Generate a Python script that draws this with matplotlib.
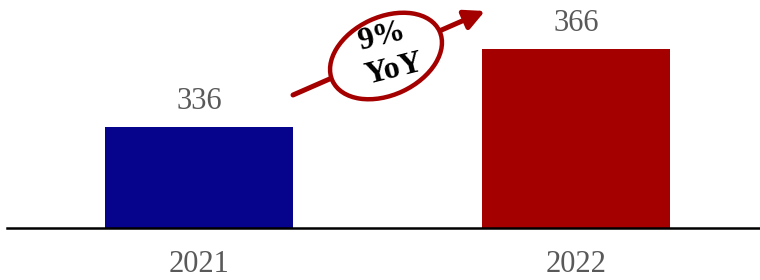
import matplotlib
matplotlib.use("Agg")
import matplotlib.pyplot as plt
from matplotlib.patches import Ellipse, FancyArrowPatch
from matplotlib.transforms import ScaledTranslation

years = ["2021", "2022"]
values = [336, 366]
colors = ["#06038C", "#A50000"]
growth_top = "9%"
growth_bottom = "YoY"

plt.rcParams['font.family'] = ['Liberation Serif', 'DejaVu Serif']

fig = plt.figure(figsize=(7.6, 2.8), dpi=100)
ax = fig.add_axes([7/760, 52/280, 753/760, 228/280])

x = list(range(len(years)))
ax.bar(x, values, width=0.5, color=colors, zorder=2)
ax.set_xlim(-0.509, 1.488)
ax.set_ylim(297.2, 384.8)

for xi, v in zip(x, values):
    ax.annotate(str(v), (xi, v), xytext=(0, 8), textcoords="offset points",
                ha="center", va="bottom", fontsize=22, color="#595959")

ax.set_xticks(x)
ax.set_xticklabels(years, fontsize=22, color="#595959")
ax.tick_params(axis="x", length=0, pad=16)
ax.set_yticks([])
for s in ["top", "right", "left"]:
    ax.spines[s].set_visible(False)
ax.spines["bottom"].set_linewidth(1.8)
ax.spines["bottom"].set_color("black")

# growth arrow
arrow = FancyArrowPatch((286/753, (228-95)/228), (478/753, (228-11)/228),
                        transform=ax.transAxes, arrowstyle="-|>,head_length=12,head_width=6",
                        color="#A50000", lw=3.6, zorder=3, clip_on=False,
                        shrinkA=0, shrinkB=0)
ax.add_patch(arrow)

cx, cy = (386-7)/753, (228-56)/228
ell = Ellipse((0, 0), 1.18, 0.78, angle=25,
              transform=fig.dpi_scale_trans + ScaledTranslation(cx, cy, ax.transAxes),
              facecolor="white", edgecolor="#A50000", lw=3.2, zorder=4, clip_on=False)
ax.add_patch(ell)
ax.text((382-7)/753, (228-37)/228, growth_top, transform=ax.transAxes, ha="center", va="center",
        fontsize=23, fontweight="bold", color="black", rotation=14, zorder=5)
ax.text((394-7)/753, (228-70)/228, growth_bottom, transform=ax.transAxes, ha="center", va="center",
        fontsize=23, fontweight="bold", color="black", rotation=14, zorder=5)

fig.savefig("out.png", dpi=100)
